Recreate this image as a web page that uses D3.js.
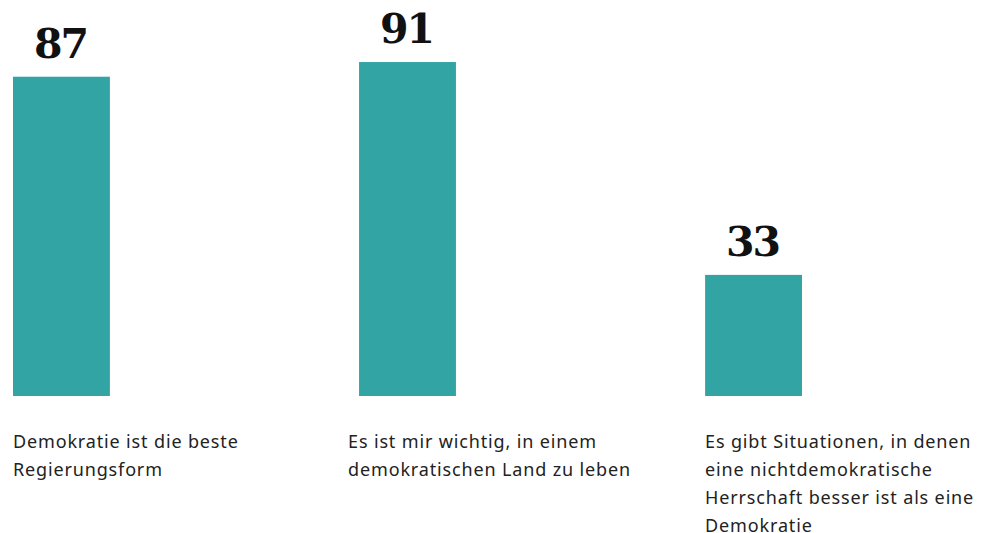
<!DOCTYPE html>
<html>
<head>
<meta charset="utf-8">
<script src="https://cdn.jsdelivr.net/npm/d3@7"></script>
<style>
  body { margin: 0; background: #fff; }
  .value { font-family: "DejaVu Serif", serif; font-weight: bold; font-size: 41px; fill: #111; letter-spacing: -2px; }
  .label { font-family: "Noto Sans", sans-serif; font-size: 18px; fill: #222; letter-spacing: 0.85px; }
</style>
</head>
<body>
<script>
const categories = [
  "Demokratie ist die beste\nRegierungsform",
  "Es ist mir wichtig, in einem\ndemokratischen Land zu leben",
  "Es gibt Situationen, in denen\neine nichtdemokratische\nHerrschaft besser ist als eine\nDemokratie"
];
const values = [87, 91, 33];

const width = 983, height = 533;
const baseline = 396;

const svg = d3.select("body").append("svg")
    .attr("width", width)
    .attr("height", height);

const x = d3.scaleBand()
    .domain(d3.range(categories.length))
    .range([13, 802])
    .paddingInner(0.72)
    .paddingOuter(0);

const y = d3.scaleLinear()
    .domain([0, 100])
    .range([baseline, baseline - 367]);

svg.selectAll("rect.bar")
    .data(values)
  .enter().append("rect")
    .attr("class", "bar")
    .attr("x", (d, i) => x(i))
    .attr("y", d => y(d))
    .attr("width", x.bandwidth())
    .attr("height", d => y(0) - y(d))
    .attr("fill", "#33a4a4");

svg.selectAll("text.value")
    .data(values)
  .enter().append("text")
    .attr("class", "value")
    .attr("x", (d, i) => x(i) + x.bandwidth() / 2 - 1)
    .attr("y", d => y(d) - 19)
    .attr("text-anchor", "middle")
    .text(d => d);

// category labels, one tspan per line (middle one sits a bit left of its bar)
const lbl = svg.selectAll("text.label")
    .data(categories)
  .enter().append("text")
    .attr("class", "label")
    .attr("x", (d, i) => x(i) - (i === 1 ? 11 : 0))
    .attr("y", 448);

lbl.selectAll("tspan")
    .data(d => d.split("\n"))
  .enter().append("tspan")
    .attr("x", function() { return this.parentNode.getAttribute("x"); })
    .attr("dy", (d, j) => j === 0 ? 0 : 28)
    .text(d => d);
</script>
</body>
</html>
